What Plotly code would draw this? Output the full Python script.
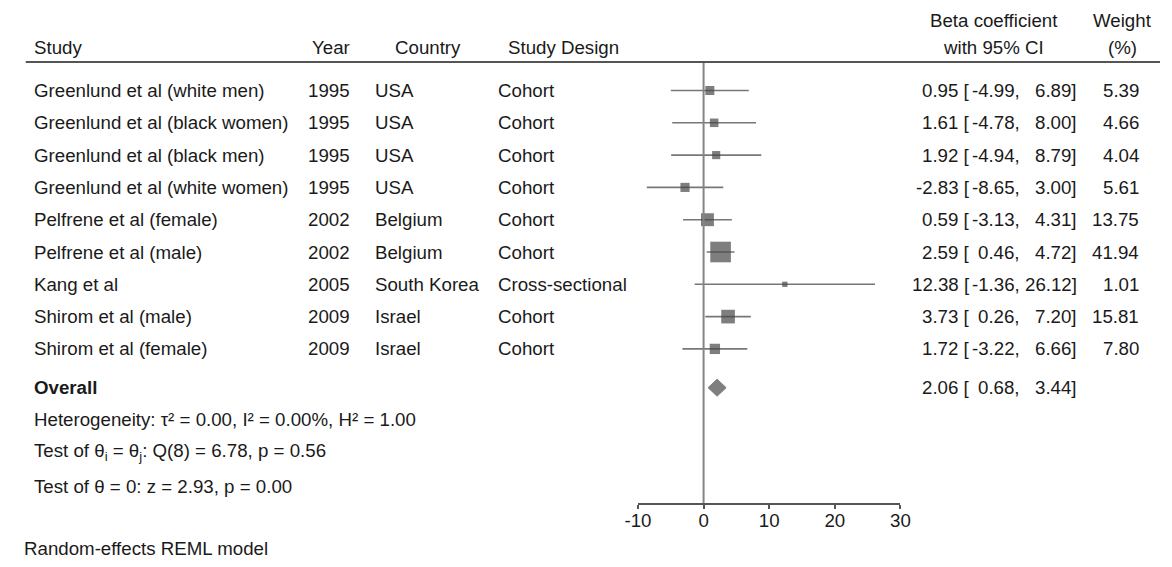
import plotly.graph_objects as go

# ---------------- data ----------------
studies = ["Greenlund et al (white men)", "Greenlund et al (black women)",
           "Greenlund et al (black men)", "Greenlund et al (white women)",
           "Pelfrene et al (female)", "Pelfrene et al (male)", "Kang et al",
           "Shirom et al (male)", "Shirom et al (female)"]
years = [1995, 1995, 1995, 1995, 2002, 2002, 2005, 2009, 2009]
countries = ["USA", "USA", "USA", "USA", "Belgium", "Belgium", "South Korea", "Israel", "Israel"]
designs = ["Cohort", "Cohort", "Cohort", "Cohort", "Cohort", "Cohort",
           "Cross-sectional", "Cohort", "Cohort"]
est = [0.95, 1.61, 1.92, -2.83, 0.59, 2.59, 12.38, 3.73, 1.72]
ci_lo = [-4.99, -4.78, -4.94, -8.65, -3.13, 0.46, -1.36, 0.26, -3.22]
ci_hi = [6.89, 8.00, 8.79, 3.00, 4.31, 4.72, 26.12, 7.20, 6.66]
weights = [5.39, 4.66, 4.04, 5.61, 13.75, 41.94, 1.01, 15.81, 7.80]
overall_est, overall_lo, overall_hi = 2.06, 0.68, 3.44
x_ticks = [-10, 0, 10, 20, 30]
x_tick_labels = ["-10", "0", "10", "20", "30"]
stat_lines = ["Heterogeneity: \u03c4\u00b2 = 0.00, I\u00b2 = 0.00%, H\u00b2 = 1.00",
              "Test of \u03b8<sub>i</sub> = \u03b8<sub>j</sub>: Q(8) = 6.78, p = 0.56",
              "Test of \u03b8 = 0: z = 2.93, p = 0.00"]
model_note = "Random-effects REML model"

# ---------------- layout helpers ----------------
W, H = 1172, 567
AXIS_PX = 503          # pixel row of x axis line
ROW0_PX, ROW_STEP = 90.5, 32.3
FONT = "Liberation Sans, Arial, Helvetica, sans-serif"
FS = 18.7
TXT = "#1a1a1a"

def px(x):
    return x / W

def py(y):
    return 1 - y / H

def row_px(i):
    return ROW0_PX + i * ROW_STEP

n = len(studies)
rows = list(range(n))
overall_row = 9.2
stat_rows = [10.2, 11.2, 12.25]

y_top_idx = (0 - ROW0_PX) / ROW_STEP
y_bot_idx = (AXIS_PX - ROW0_PX) / ROW_STEP

fig = go.Figure()

# CI lines
lx, ly = [], []
for i in rows:
    lx += [ci_lo[i], ci_hi[i], None]
    ly += [i, i, None]
fig.add_trace(go.Scatter(x=lx, y=ly, mode="lines",
                         line=dict(color="#777777", width=1.6),
                         hoverinfo="skip", showlegend=False, cliponaxis=False))

# weighted squares
sizes = [2.8 * w ** 0.5 + 2.5 for w in weights]
fig.add_trace(go.Scatter(x=est, y=rows, mode="markers",
                         marker=dict(symbol="square", size=sizes, color="#474747",
                                     line=dict(width=0)),
                         showlegend=False, cliponaxis=False))

# overall diamond
dh = 8.5 / ROW_STEP
fig.add_trace(go.Scatter(
    x=[overall_lo, overall_est, overall_hi, overall_est, overall_lo],
    y=[overall_row, overall_row - dh, overall_row, overall_row + dh, overall_row],
    mode="lines", fill="toself", fillcolor="#7f7f7f",
    line=dict(color="#7f7f7f", width=1), showlegend=False, cliponaxis=False))

# reference line at 0
fig.add_shape(type="line", xref="x", x0=0, x1=0, yref="paper",
              y0=py(AXIS_PX), y1=py(62), line=dict(color="#858585", width=2))
# header rule
fig.add_shape(type="line", xref="paper", x0=px(12), x1=px(1170), yref="paper",
              y0=py(62), y1=py(62), line=dict(color="#555555", width=2))

ann = []

def text(x, y, s, anchor="left", bold=False):
    if bold:
        s = "<b>" + s + "</b>"
    ann.append(dict(x=px(x), y=py(y), xref="paper", yref="paper", text=s,
                    showarrow=False, xanchor=anchor, yanchor="middle",
                    font=dict(family=FONT, size=FS, color=TXT)))

# headers
HY = 47
text(18, HY, "Study")
text(345, HY, "Year", "right")
text(423, HY, "Country", "center")
text(561, HY, "Study Design", "center")
text(1000, 20, "Beta coefficient", "center")
text(1000, HY, "with 95% CI", "center")
text(1132, 20, "Weight", "center")
text(1132, HY, "(%)", "center")

for i in rows:
    y = row_px(i)
    text(18, y, studies[i])
    text(345, y, str(years[i]), "right")
    text(367, y, countries[i])
    text(492, y, designs[i])
    text(978, y, f"{est[i]:.2f} [", "right")
    text(1029, y, f"{ci_lo[i]:.2f},", "right")
    text(1087, y, f"{ci_hi[i]:.2f}]", "right")
    text(1151, y, f"{weights[i]:.2f}", "right")

yo = row_px(overall_row)
text(18, yo, "Overall", bold=True)
text(978, yo, f"{overall_est:.2f} [", "right")
text(1029, yo, f"{overall_lo:.2f},", "right")
text(1087, yo, f"{overall_hi:.2f}]", "right")

for r, s in zip(stat_rows, stat_lines):
    text(18, row_px(r), s)

text(8, 548, model_note)

fig.update_layout(
    width=W, height=H,
    margin=dict(l=0, r=0, t=0, b=0),
    paper_bgcolor="white", plot_bgcolor="white",
    annotations=ann,
    showlegend=False,
    xaxis=dict(domain=[px(637), px(905)], range=[-10, 30], tickvals=x_ticks,
               ticktext=x_tick_labels,
               showline=True, linecolor="#555555", linewidth=1.5,
               ticks="outside", ticklen=4, tickwidth=1.5, tickcolor="#555555",
               ticklabelstandoff=-4,
               showgrid=False, zeroline=False, anchor="y",
               tickfont=dict(family=FONT, size=FS, color=TXT)),
    yaxis=dict(domain=[py(AXIS_PX), 1], range=[y_bot_idx, y_top_idx],
               visible=False, showgrid=False, zeroline=False),
)

fig.write_html("out.html")
